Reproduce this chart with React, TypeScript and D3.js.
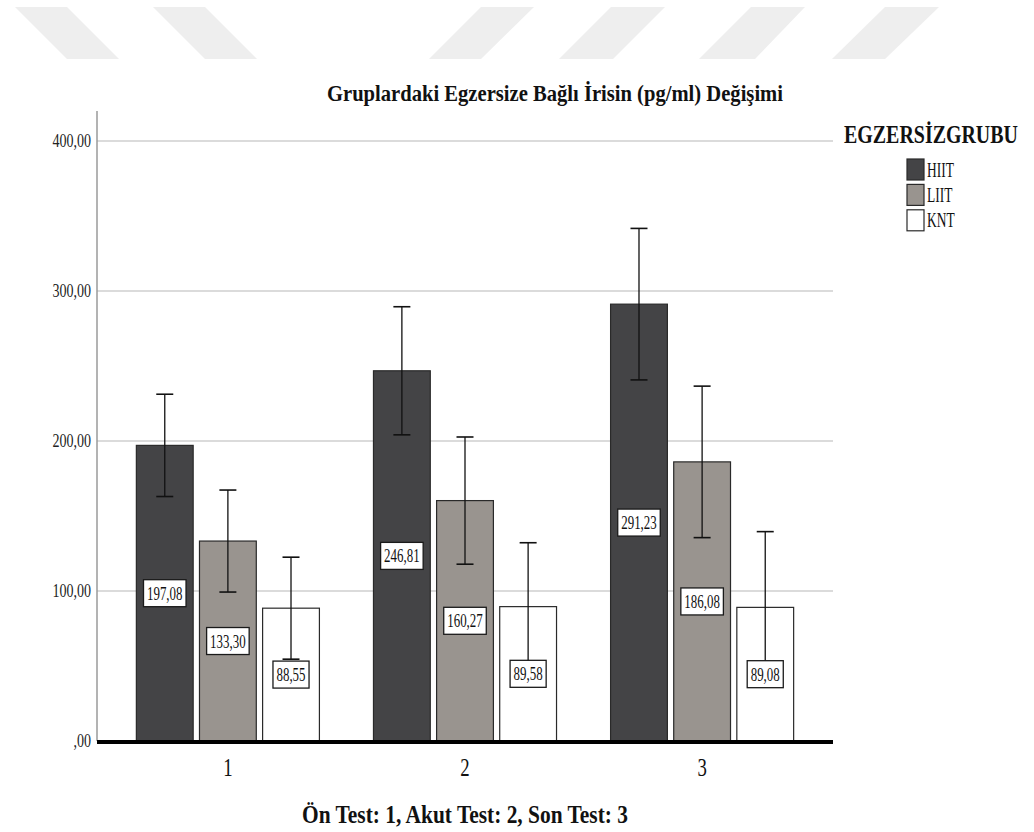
import * as d3 from "d3";
import React, { useEffect, useRef } from 'react'

// groups on the x axis and the three exercise groups
const categories = ['1', '2', '3']
const series = ['HIIT', 'LIIT', 'KNT']

// means (pg/ml)
const hiitMeans = [197.08, 246.81, 291.23]
const liitMeans = [133.30, 160.27, 186.08]
const kntMeans = [88.55, 89.58, 89.08]

// half length of the error bars
const hiitErr = [34.1, 42.7, 50.5]
const liitErr = [34.0, 42.4, 50.5]
const kntErr = [34.0, 42.6, 50.5]

const yTicks = [0, 100, 200, 300, 400]

const titleText = 'Gruplardaki Egzersize Bağlı İrisin (pg/ml) Değişimi'
const xTitleText = 'Ön Test: 1, Akut Test: 2, Son Test: 3'
const legendTitle = 'EGZERSİZGRUBU'

const fills: Record<string, string> = { HIIT: '#444446', LIIT: '#99948f', KNT: '#ffffff' }

// faint watermark stripes at the top of the page (decoration only)
const stripes = [
  [15, 67, 119, 67], [153, 205, 257, 205],
  [481, 534, 481, 429], [611, 665, 613, 559],
  [751, 805, 755, 699], [885, 939, 885, 832]
]

const fmt = (v: number) => v.toFixed(2).replace('.', ',')

const squeeze = (sel: any, k: number) => {
  sel.each(function (this: SVGTextElement) {
    const w = this.getComputedTextLength()
    this.setAttribute('textLength', String(w * k))
    this.setAttribute('lengthAdjust', 'spacingAndGlyphs')
  })
}
const fitTo = (sel: any, w: number) => {
  sel.attr('textLength', w).attr('lengthAdjust', 'spacingAndGlyphs')
}

const plotGraph = (node: SVGSVGElement) => {
  const width = 1034
  const height = 832
  const left = 97
  const right = 833
  const top = 141
  const bottom = 741
  const font = '"Liberation Serif", "Times New Roman", serif'

  const svg = d3.select(node)
  svg.selectAll('*').remove()
  svg.attr('width', width).attr('height', height).style('font-family', font)

  svg.append('rect').attr('width', width).attr('height', height).attr('fill', '#fff')

  svg.append('g').selectAll('polygon')
    .data(stripes)
    .enter()
    .append('polygon')
    .attr('points', (d) => `${d[0]},7 ${d[1]},7 ${d[2]},59 ${d[3]},59`)
    .attr('fill', '#eeeeee')

  const means = [hiitMeans, liitMeans, kntMeans]
  const errs = [hiitErr, liitErr, kntErr]
  const rows = categories.flatMap((c, i) => series.map((s, j) => ({
    cat: c, key: s, value: means[j][i], err: errs[j][i]
  })))

  const x0 = d3.scaleBand().domain(categories).range([left, right])
    .paddingInner(0.228).paddingOuter(0.166)
  const x1 = d3.scaleBand().domain(series).range([0, x0.bandwidth()]).paddingInner(0.1)
  const y = d3.scaleLinear().domain([0, 400]).range([bottom, top])

  // grid
  svg.append('g').selectAll('line')
    .data(yTicks.filter((t) => t > 0))
    .enter()
    .append('line')
    .attr('x1', left).attr('x2', right)
    .attr('y1', (d) => y(d)).attr('y2', (d) => y(d))
    .attr('stroke', '#cfcfcf').attr('stroke-width', 1.6)

  svg.append('line')
    .attr('x1', left).attr('x2', left).attr('y1', 111).attr('y2', bottom)
    .attr('stroke', '#9a9a9a').attr('stroke-width', 1.5)

  const yl = svg.append('g').selectAll('text')
    .data(yTicks)
    .enter()
    .append('text')
    .attr('x', 91).attr('y', (d) => y(d) + 6)
    .attr('text-anchor', 'end')
    .attr('font-size', 18)
    .attr('fill', '#222')
    .text((d) => fmt(d).replace(/^0/, ''))
  squeeze(yl, 0.78)

  // bars
  const groups = svg.append('g').selectAll('g')
    .data(rows)
    .enter()
    .append('g')
    .attr('transform', (d) => `translate(${(x0(d.cat) as number) + (x1(d.key) as number)},0)`)

  groups.append('rect')
    .attr('x', 0).attr('width', x1.bandwidth())
    .attr('y', (d) => y(d.value)).attr('height', (d) => y(0) - y(d.value))
    .attr('fill', (d) => fills[d.key])
    .attr('stroke', '#2a2a2a').attr('stroke-width', 1.2)

  const cx = x1.bandwidth() / 2
  groups.append('line')
    .attr('x1', cx).attr('x2', cx)
    .attr('y1', (d) => y(d.value + d.err)).attr('y2', (d) => y(d.value - d.err))
    .attr('stroke', '#111').attr('stroke-width', 1.3)
  groups.append('line')
    .attr('x1', cx - 8.5).attr('x2', cx + 8.5)
    .attr('y1', (d) => y(d.value + d.err)).attr('y2', (d) => y(d.value + d.err))
    .attr('stroke', '#111').attr('stroke-width', 1.6)
  groups.append('line')
    .attr('x1', cx - 8.5).attr('x2', cx + 8.5)
    .attr('y1', (d) => y(d.value - d.err)).attr('y2', (d) => y(d.value - d.err))
    .attr('stroke', '#111').attr('stroke-width', 1.6)

  // value labels, centred at half the bar height
  const boxes = groups.append('rect')
    .attr('fill', '#fff').attr('stroke', '#1a1a1a').attr('stroke-width', 1.3)
  const labels = groups.append('text')
    .attr('x', cx).attr('y', (d) => y(d.value / 2) + 6.5)
    .attr('text-anchor', 'middle')
    .attr('font-size', 19)
    .attr('fill', '#111')
    .text((d) => fmt(d.value))
  squeeze(labels, 0.68)
  labels.each(function (this: SVGTextElement, d: any, i: number) {
    const w = Number(this.getAttribute('textLength'))
    d3.select(boxes.nodes()[i])
      .attr('x', cx - w / 2 - 3.5).attr('width', w + 7)
      .attr('y', y(d.value / 2) - 13.5).attr('height', 27)
  })

  // baseline
  svg.append('line')
    .attr('x1', left).attr('x2', right).attr('y1', bottom + 1).attr('y2', bottom + 1)
    .attr('stroke', '#000').attr('stroke-width', 4)

  const xl = svg.append('g').selectAll('text')
    .data(categories)
    .enter()
    .append('text')
    .attr('x', (d) => (x0(d) as number) + x0.bandwidth() / 2)
    .attr('y', 776)
    .attr('text-anchor', 'middle')
    .attr('font-size', 25)
    .attr('fill', '#111')
    .text((d) => d)
  squeeze(xl, 0.75)

  svg.append('text')
    .attr('x', (left + right) / 2).attr('y', 823)
    .attr('text-anchor', 'middle')
    .attr('font-size', 25).attr('font-weight', 'bold').attr('fill', '#111')
    .text(xTitleText)
    .call(fitTo, 326)

  svg.append('text')
    .attr('x', 555).attr('y', 101)
    .attr('text-anchor', 'middle')
    .attr('font-size', 23).attr('font-weight', 'bold').attr('fill', '#111')
    .text(titleText)
    .call(fitTo, 456)

  // legend title: narrowed with a horizontal scale so it stays inside the page
  const lg = svg.append('g')
  const ltitle = lg.append('text')
    .attr('x', 0).attr('y', 0)
    .attr('font-size', 25).attr('font-weight', 'bold').attr('fill', '#111')
    .text(legendTitle)
  const natural = (ltitle.node() as SVGTextElement).getComputedTextLength()
  lg.attr('transform', `translate(844,143) scale(${174 / natural},1)`)

  const leg = svg.append('g').selectAll('g')
    .data(series)
    .enter()
    .append('g')
    .attr('transform', (d, i) => `translate(907,${159 + i * 25.4})`)
  leg.append('rect')
    .attr('width', 17).attr('height', 21)
    .attr('fill', (d) => fills[d])
    .attr('stroke', '#2a2a2a').attr('stroke-width', 1.2)
  const lt = leg.append('text')
    .attr('x', 20).attr('y', 17.5)
    .attr('font-size', 21).attr('fill', '#111')
    .text((d) => d)
  squeeze(lt, 0.64)
}

export default function App() {
  const ref = useRef<SVGSVGElement>(null)
  useEffect(() => {
    if (ref.current) plotGraph(ref.current)
  })
  return (
    <svg ref={ref} style={{ position: 'absolute', left: 0, top: 0, display: 'block' }} />
  )
}
